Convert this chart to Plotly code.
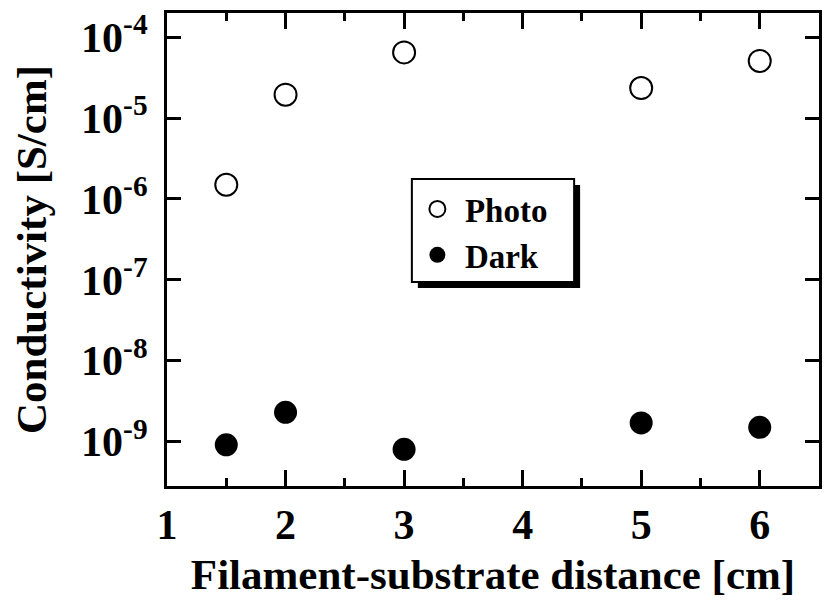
import plotly.graph_objects as go

# Filament-substrate distance [cm]
distance = [1.5, 2, 3, 5, 6]
# Conductivity [S/cm]
photo = [1.5e-6, 1.95e-5, 6.5e-5, 2.35e-5, 5.1e-5]
dark = [9.1e-10, 2.3e-9, 8.0e-10, 1.7e-9, 1.5e-9]

x_ticks = [1, 2, 3, 4, 5, 6]
y_exponents = [-9, -8, -7, -6, -5, -4]
y_ticks = [10.0 ** e for e in y_exponents]
y_labels = ["10<sup>%d</sup>" % e for e in y_exponents]

FONT = "Liberation Serif"

fig = go.Figure()
fig.add_trace(go.Scatter(
    x=distance, y=photo, mode="markers", name="<b>Photo</b>",
    marker=dict(symbol="circle-open", size=22, color="black",
                line=dict(width=2, color="black")),
))
fig.add_trace(go.Scatter(
    x=distance, y=dark, mode="markers", name="<b>Dark</b>",
    marker=dict(symbol="circle", size=23, color="black"),
))

# legend frame with drop shadow
L, T, W, H = 167, 13, 655, 473
def px(x, y):
    return (x - L) / W, (T + H - y) / H

x0, y0 = px(419, 185)
x1, y1 = px(582, 288)
fig.add_shape(type="rect", xref="paper", yref="paper", x0=x0, y0=y0, x1=x1, y1=y1,
              fillcolor="black", line=dict(width=0), layer="above")
x0, y0 = px(413, 179)
x1, y1 = px(576, 282)
fig.add_shape(type="rect", xref="paper", yref="paper", x0=x0, y0=y0, x1=x1, y1=y1,
              fillcolor="white", line=dict(width=2, color="black"), layer="above")

lx, ly = px(411, 181)
fig.update_layout(
    width=824, height=600,
    margin=dict(l=L, r=824 - L - W, t=T, b=600 - T - H),
    paper_bgcolor="white", plot_bgcolor="white",
    font=dict(family=FONT, color="black"),
    showlegend=True,
    legend=dict(x=lx, y=ly, xanchor="left", yanchor="top",
                bgcolor="rgba(0,0,0,0)", borderwidth=0,
                font=dict(family=FONT, size=33, color="black"),
                itemsizing="trace", itemwidth=45, tracegroupgap=0),
    xaxis=dict(
        range=[1, 6.5], tickmode="array", tickvals=x_ticks,
        ticktext=["<b>%d</b>" % v for v in x_ticks],
        ticks="inside", ticklen=16, tickwidth=3, tickcolor="black",
        minor=dict(tickmode="array", tickvals=[1.5, 2.5, 3.5, 4.5, 5.5, 6.5],
                   ticks="inside", ticklen=8, tickwidth=3, tickcolor="black"),
        showline=True, linewidth=3, linecolor="black", mirror="ticks",
        showgrid=False, zeroline=False,
        tickfont=dict(family=FONT, size=42, color="black"),
        title=dict(text="<b>Filament-substrate distance [cm]</b>",
                   font=dict(family=FONT, size=43, color="black"), standoff=12),
    ),
    yaxis=dict(
        type="log", range=[-9.55, -3.7], tickmode="array", tickvals=y_ticks,
        ticktext=["<b>%s</b>" % t for t in y_labels],
        ticks="inside", ticklen=14, tickwidth=3, tickcolor="black",
        showline=True, linewidth=3, linecolor="black", mirror="ticks",
        showgrid=False, zeroline=False,
        tickfont=dict(family=FONT, size=42, color="black"),
        ticklabelstandoff=8,
        title=dict(text="<b>Conductivity [S/cm]</b>",
                   font=dict(family=FONT, size=43, color="black"), standoff=22),
    ),
)

fig.write_html("out.html")
